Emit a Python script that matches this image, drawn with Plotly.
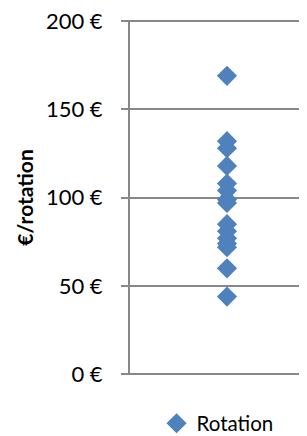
import plotly.graph_objects as go

series_name = "Rotation"
values = [169, 132, 128, 118, 108, 104, 99, 97, 85, 81, 77, 74, 72, 60, 44]
x_pos = [1] * len(values)
y_ticks = [0, 50, 100, 150, 200]
y_ticktext = [f"{v}\u00a0€" for v in y_ticks]
y_title = "€/rotation"

FONT = "Lato, Carlito, Calibri, sans-serif"
BLUE = "#4F81BD"
GRID = "#878787"

fig = go.Figure()
fig.add_trace(go.Scatter(
    x=x_pos, y=values, mode="markers", name=series_name,
    marker=dict(symbol="diamond", size=15.5, color=BLUE, line=dict(width=0)),
    showlegend=True,
))

# page body has an 8px default margin: compensate in size and margins
fig.update_layout(
    width=299, height=428,
    margin=dict(l=122, r=0, t=12, b=61, autoexpand=False),
    paper_bgcolor="white", plot_bgcolor="white",
    font=dict(family=FONT, size=22, color="#000000"),
    showlegend=True,
    legend=dict(orientation="h", x=0.15, y=-0.08, xanchor="left", yanchor="top",
                font=dict(size=20.5, family=FONT), bgcolor="rgba(0,0,0,0)",
                itemwidth=30),
    xaxis=dict(range=[0, 1.825], showgrid=False, showticklabels=False,
               zeroline=False, showline=False, ticks=""),
    yaxis=dict(range=[-0.4, 200.6], tickvals=y_ticks, ticktext=y_ticktext,
               showgrid=True, gridcolor=GRID, gridwidth=1.5,
               zeroline=True, zerolinecolor=GRID, zerolinewidth=1.5,
               showline=True, linecolor=GRID, linewidth=2,
               ticks="outside", ticklen=7, tickwidth=2, tickcolor=GRID,
               ticklabelstandoff=14, ticklabeloverflow="allow",
               tickfont=dict(size=22, family=FONT),
               title=dict(text="<b>" + y_title + "</b>", font=dict(size=21, family=FONT),
                          standoff=7)),
)

fig.write_html("out.html")
